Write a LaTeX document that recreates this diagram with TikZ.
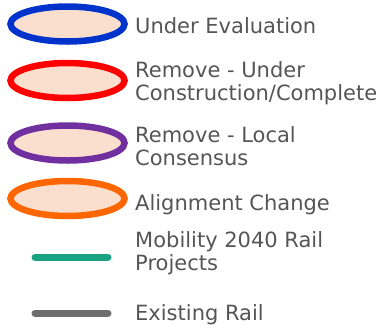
\documentclass[tikz,border=0pt]{standalone}
\usepackage{fontspec}
\setmainfont{DejaVu Sans}
\usepackage{xcolor}
\usepackage{tikz}
\usetikzlibrary{shapes}
\usetikzlibrary{positioning}
\definecolor{lg_fill}{HTML}{FADFCF}
\definecolor{lg_blue}{HTML}{0033CC}
\definecolor{lg_red}{HTML}{FF0000}
\definecolor{lg_purple}{HTML}{7030A0}
\definecolor{lg_orange}{HTML}{FF6600}
\definecolor{lg_green}{HTML}{1AA383}
\definecolor{lg_gray}{HTML}{6E6E6E}
\definecolor{lg_text}{HTML}{555555}
\tikzset{
  lg_e/.style = {ellipse, fill=lg_fill, line width=6.5pt,
    minimum width=114pt, minimum height=35pt, inner sep=0pt},% legende, ellipse
  lg_t/.style = {anchor=base west, align=left, inner sep=0pt, text=lg_text,
    font=\fontsize{21}{23}\selectfont},% legende, texte (base = derniere ligne)
  lg_l/.style = {line width=7pt, line cap=round}% legende, ligne
}

\begin{document}
\begin{tikzpicture}[x=1pt,y=-1pt]
\useasboundingbox (0,0) rectangle (387,330);
\node [lg_e, draw=lg_blue] (ue) at (67.5,24) {};
\node [lg_t] (ue_t) at (135,33) {Under Evaluation};

\node [lg_e, draw=lg_red] (uc) at (67.5,80.5) {};
\node [lg_t] (uc_t) at (135,100) {Remove - Under\\Construction/Complete};

\node [lg_e, draw=lg_purple] (lc) at (67.5,143) {};
\node [lg_t] (lc_t) at (135,165) {Remove - Local\\Consensus};

\node [lg_e, draw=lg_orange] (ac) at (67.5,198.5) {};
\node [lg_t] (ac_t) at (135,210) {Alignment Change};

\coordinate (mr_a) at (35,257);
\coordinate (mr_b) at (108,257);
\draw [lg_l, lg_green] (mr_a) -- (mr_b);
\node [lg_t] (mr_t) at (135,270) {Mobility 2040 Rail\\Projects};

\coordinate (er_a) at (35,313);
\coordinate (er_b) at (108,313);
\draw [lg_l, lg_gray] (er_a) -- (er_b);
\node [lg_t] (er_t) at (135,320) {Existing Rail};
\end{tikzpicture}
\end{document}
